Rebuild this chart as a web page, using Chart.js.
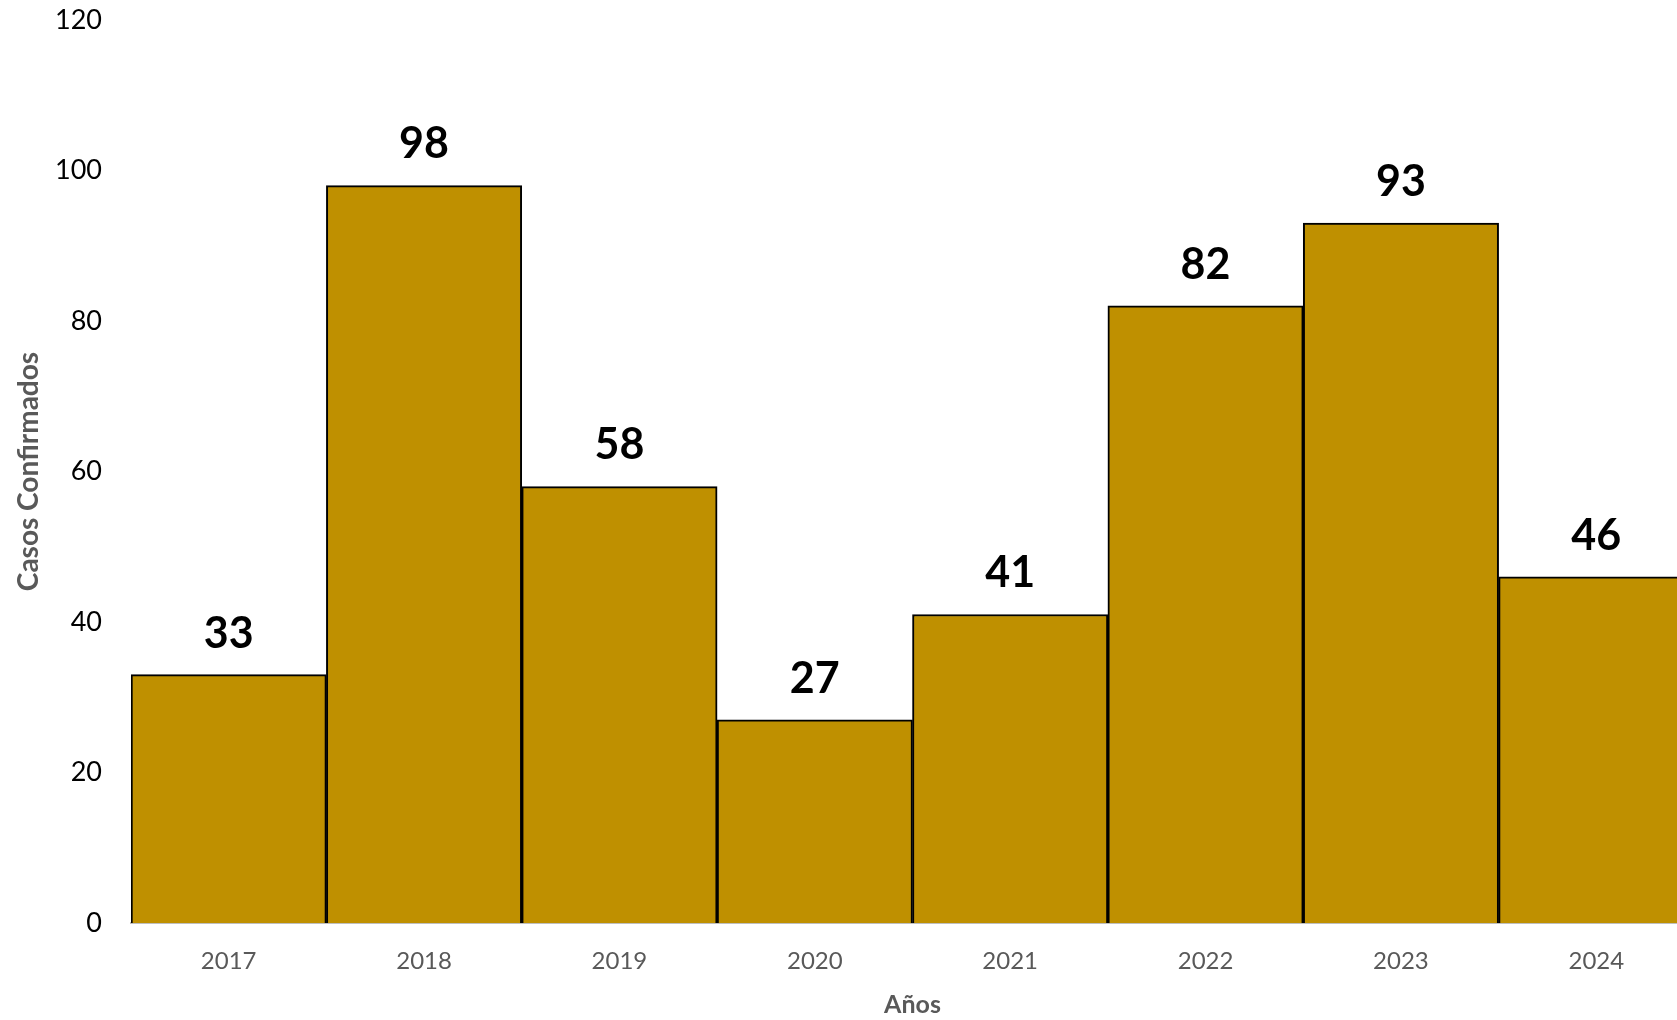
<!DOCTYPE html>
<html>
<head>
<meta charset="utf-8">
<script src="https://cdn.jsdelivr.net/npm/chart.js@4"></script>
<style>
  html, body { margin: 0; padding: 0; background: #fff; overflow: hidden; }
  #wrap { width: 1697px; height: 1020px; position: relative; }
</style>
</head>
<body>
<div id="wrap"><canvas id="casosChart"></canvas></div>
<script>
// ================= DATA =================
const years = ["2017", "2018", "2019", "2020", "2021", "2022", "2023", "2024"];
const casos = [33, 98, 58, 27, 41, 82, 93, 46];
const yTicks = [0, 20, 40, 60, 80, 100, 120];

const FONT = "Lato, 'Open Sans', sans-serif";

// ================= BAR LABELS =================
const barLabels = {
    id: "barLabels",
    afterDatasetsDraw(chart) {
        const ctx = chart.ctx;
        const meta = chart.getDatasetMeta(0);
        ctx.save();
        ctx.font = "bold 43px " + FONT;
        ctx.fillStyle = "#000";
        ctx.textAlign = "center";
        ctx.textBaseline = "middle";
        meta.data.forEach((bar, i) => {
            ctx.fillText(String(casos[i]), bar.x, bar.y - 41);
        });
        ctx.restore();
    }
};

new Chart(document.getElementById("casosChart"), {
    type: "bar",
    data: {
        labels: years,
        datasets: [{
            data: casos,
            backgroundColor: "#BF9000",
            borderColor: "#000",
            borderWidth: 2,
            categoryPercentage: 1,
            barPercentage: 1
        }]
    },
    options: {
        responsive: true,
        maintainAspectRatio: false,
        animation: false,
        layout: { padding: { top: 20, right: 3, left: 0, bottom: 0 } },
        plugins: {
            legend: { display: false },
            tooltip: { enabled: false }
        },
        scales: {
            x: {
                grid: { display: false },
                border: { display: true, color: "#BFBFBF", width: 2 },
                ticks: {
                    color: "#595959",
                    font: { family: FONT, size: 24 },
                    padding: 16
                },
                title: {
                    display: true,
                    text: "Años",
                    color: "#595959",
                    font: { family: FONT, size: 25, weight: "bold" },
                    padding: { top: 12, bottom: 0 }
                },
                afterFit(scale) {
                    scale.height = 97;
                    scale.paddingLeft = 0;
                    scale.paddingRight = 0;
                }
            },
            y: {
                min: 0,
                max: 120,
                afterBuildTicks(scale) {
                    scale.ticks = yTicks.map(v => ({ value: v }));
                },
                grid: { display: false, drawTicks: false },
                border: { display: false },
                ticks: {
                    color: "#000",
                    font: { family: FONT, size: 27 },
                    padding: 29
                },
                title: {
                    display: true,
                    text: "Casos Confirmados",
                    color: "#595959",
                    font: { family: FONT, size: 28, weight: "bold" },
                    padding: { top: 12, bottom: 0 }
                },
                afterFit(scale) {
                    scale.width = 131;
                    scale.paddingTop = 0;
                    scale.paddingBottom = 0;
                }
            }
        }
    },
    plugins: [barLabels]
});
</script>
</body>
</html>
